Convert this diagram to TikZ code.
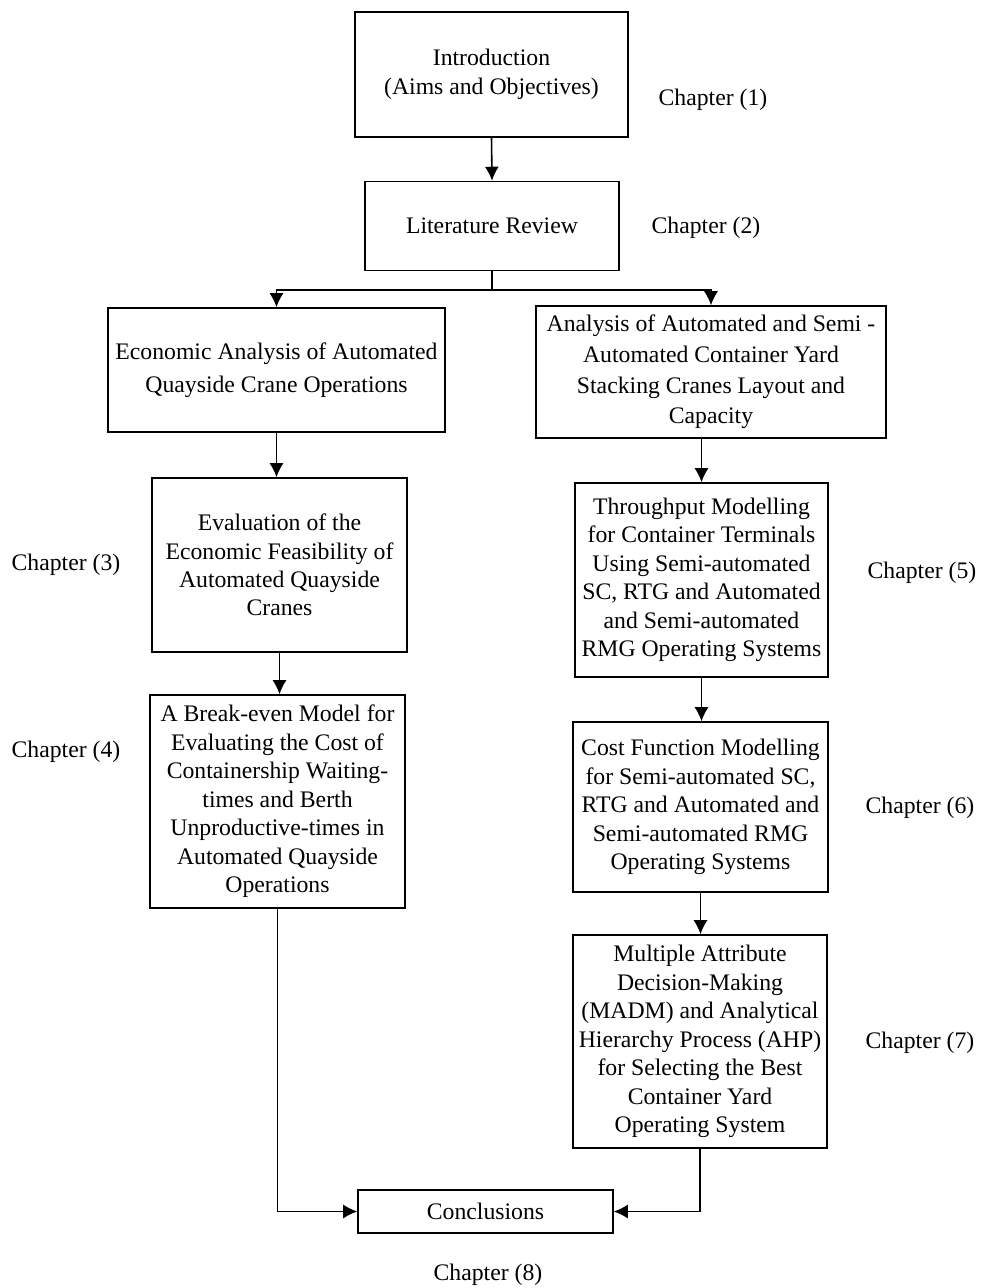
\documentclass[tikz,border=0pt]{standalone}
\usepackage{fontspec}
\setmainfont{Liberation Serif}
\usetikzlibrary{arrows.meta}
\begin{document}
\begin{tikzpicture}[x=0.02cm,y=-0.02cm,
  txt/.style={font=\fontsize{13.5}{16.2}\selectfont, align=center, inner sep=0pt},
  wide/.style={font=\fontsize{13.5}{18.5}\selectfont},
  mid/.style={font=\fontsize{13.5}{17.4}\selectfont},
  box/.style={txt, draw, line width=0.9pt},
  lbl/.style={txt},
  link/.style={line width=0.9pt},
  arr/.style={link, -{Latex[length=0.28cm,width=0.28cm]}}]
\useasboundingbox (0,0) rectangle (981,1288);
% boxes
\node[box, minimum width=5.46cm, minimum height=2.50cm] (intro) at (491.5,74.5) {Introduction\\(Aims and Objectives)};
\node[box, minimum width=5.08cm, minimum height=1.78cm] (lit) at (492,226) {Literature Review};
\node[box, wide, minimum width=6.74cm, minimum height=2.48cm] (econ) at (276.5,370) {Economic Analysis of Automated\\Quayside Crane Operations};
\node[box, mid, minimum width=7.00cm, minimum height=2.64cm] (anal) at (711,372) {Analysis of Automated and Semi -\\Automated Container Yard\\Stacking Cranes Layout and\\Capacity};
\node[box, minimum width=5.10cm, minimum height=3.48cm] (eval) at (279.5,565) {Evaluation of the\\Economic Feasibility of\\Automated Quayside\\Cranes};
\node[box, minimum width=5.06cm, minimum height=3.88cm] (thru) at (701.5,580) {Throughput Modelling\\for Container Terminals\\Using Semi-automated\\SC, RTG and Automated\\and Semi-automated\\RMG Operating Systems};
\node[box, minimum width=5.10cm, minimum height=4.26cm] (brk) at (277.5,801.5) {A Break-even Model for\\Evaluating the Cost of\\Containership Waiting-\\times and Berth\\Unproductive-times in\\Automated Quayside\\Operations};
\node[box, minimum width=5.10cm, minimum height=3.40cm] (cost) at (700.5,807) {Cost Function Modelling\\for Semi-automated SC,\\RTG and Automated and\\Semi-automated RMG\\Operating Systems};
\node[box, minimum width=5.08cm, minimum height=4.26cm] (madm) at (700,1041.5) {Multiple Attribute\\Decision-Making\\(MADM) and Analytical\\Hierarchy Process (AHP)\\for Selecting the Best\\Container Yard\\Operating System};
\node[box, minimum width=5.10cm, minimum height=0.86cm] (concl) at (485.5,1211.5) {Conclusions};
% chapter labels
\node[lbl] (c1) at (713,100) {Chapter (1)};
\node[lbl] (c2) at (706,228) {Chapter (2)};
\node[lbl] (c3) at (66,565) {Chapter (3)};
\node[lbl] (c4) at (66,752) {Chapter (4)};
\node[lbl] (c5) at (922,573) {Chapter (5)};
\node[lbl] (c6) at (920,808) {Chapter (6)};
\node[lbl] (c7) at (920,1043) {Chapter (7)};
\node[lbl] (c8) at (488,1275) {Chapter (8)};
% connectors
\draw[arr] (intro.south) -- (lit.north);
\draw[link] (lit.south) -- ++(0,19) coordinate (split);
\draw[arr] (split) -| (econ.north);
\draw[arr] (split) -| (anal.north);
\draw[arr] (econ.south) -- (econ.south |- eval.north);
\draw[arr] (eval.south) -- (eval.south |- brk.north);
\draw[arr] (thru.north |- anal.south) -- (thru.north);
\draw[arr] (thru.south) -- (thru.south |- cost.north);
\draw[arr] (cost.south) -- (cost.south |- madm.north);
\draw[arr] (brk.south) |- (concl.west);
\draw[arr] (madm.south) |- (concl.east);
\end{tikzpicture}
\end{document}
